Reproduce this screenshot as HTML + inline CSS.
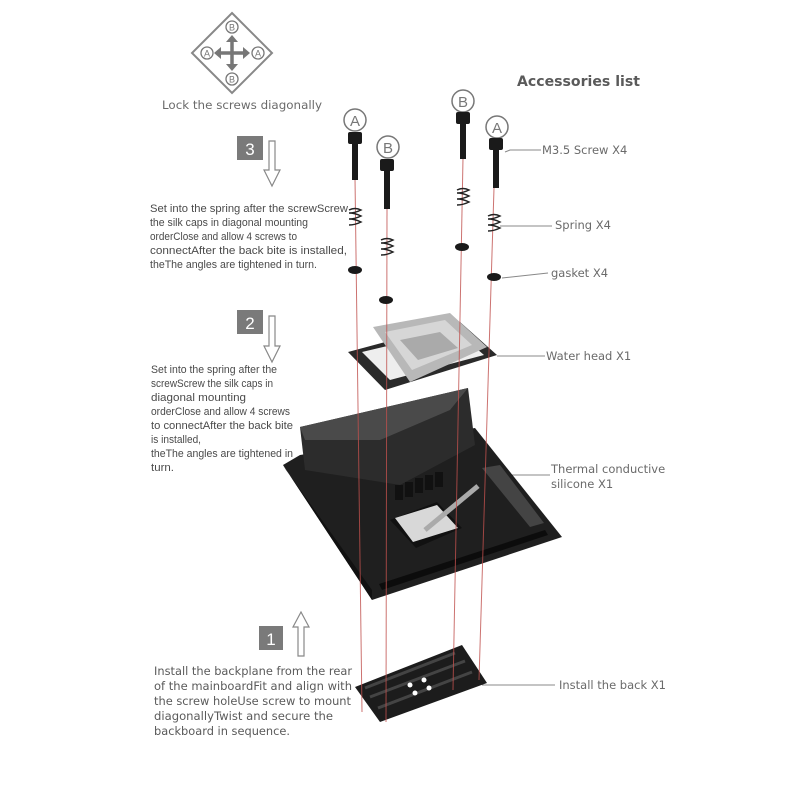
<!DOCTYPE html>
<html><head><meta charset="utf-8"><style>
html,body{margin:0;padding:0;background:#fff;}
svg{display:block;}
.t{font-family:"Liberation Sans",sans-serif;fill:#4a4a4a;font-size:11px;}
.w{font-family:"DejaVu Sans","Liberation Sans",sans-serif;fill:#5a5a5a;font-size:11.5px;}
.l{font-family:"DejaVu Sans","Liberation Sans",sans-serif;fill:#6a6a6a;font-size:11.5px;}
</style></head><body>
<svg width="793" height="793" viewBox="0 0 793 793" xmlns="http://www.w3.org/2000/svg">
<rect width="793" height="793" fill="#fff"/>
<polygon points="232,13 272,53 232,93 192,53" fill="none" stroke="#888" stroke-width="2"/>
<g fill="none" stroke="#777" stroke-width="1.3">
<circle cx="232" cy="27" r="6"/><circle cx="232" cy="79" r="6"/><circle cx="207" cy="53" r="6"/><circle cx="258" cy="53" r="6"/></g>
<g font-family="Liberation Sans,sans-serif" font-size="9" fill="#777" text-anchor="middle">
<text x="232" y="30.5">B</text><text x="232" y="82.5">B</text><text x="207" y="56.5">A</text><text x="258" y="56.5">A</text></g>
<g stroke="#777" stroke-width="3.5"><line x1="232" y1="40" x2="232" y2="66"/><line x1="219" y1="53" x2="245" y2="53"/></g>
<g fill="#777"><polygon points="232,35 226,42 238,42"/><polygon points="232,71 226,64 238,64"/><polygon points="214,53 221,47 221,59"/><polygon points="250,53 243,47 243,59"/></g>
<text x="162" y="109" class="l" fill="#666" textLength="160" lengthAdjust="spacingAndGlyphs">Lock the screws diagonally</text>
<rect x="237" y="136" width="26" height="24" fill="#7a7a7a"/>
<text x="250" y="155" text-anchor="middle" font-family="Liberation Sans,sans-serif" font-size="17" fill="#fff">3</text>
<polygon points="269,141 275,141 275,170 280,170 272,186 264,170 269,170" fill="#fff" stroke="#888" stroke-width="1.2"/>
<g class="t" lengthAdjust="spacingAndGlyphs">
<text x="150" y="212" textLength="198" lengthAdjust="spacingAndGlyphs">Set into the spring after the screwScrew</text>
<text x="150" y="226" textLength="158" lengthAdjust="spacingAndGlyphs">the silk caps in diagonal mounting</text>
<text x="150" y="240" textLength="147" lengthAdjust="spacingAndGlyphs">orderClose and allow 4 screws to</text>
<text x="150" y="254" textLength="197" lengthAdjust="spacingAndGlyphs">connectAfter the back bite is installed,</text>
<text x="150" y="268" textLength="167" lengthAdjust="spacingAndGlyphs">theThe angles are tightened in turn.</text></g>
<rect x="237" y="310" width="26" height="24" fill="#7a7a7a"/>
<text x="250" y="329" text-anchor="middle" font-family="Liberation Sans,sans-serif" font-size="17" fill="#fff">2</text>
<polygon points="269,316 275,316 275,346 280,346 272,362 264,346 269,346" fill="#fff" stroke="#888" stroke-width="1.2"/>
<g class="t">
<text x="151" y="373" textLength="126" lengthAdjust="spacingAndGlyphs">Set into the spring after the</text>
<text x="151" y="387" textLength="122" lengthAdjust="spacingAndGlyphs">screwScrew the silk caps in</text>
<text x="151" y="401" textLength="95" lengthAdjust="spacingAndGlyphs">diagonal mounting</text>
<text x="151" y="415" textLength="139" lengthAdjust="spacingAndGlyphs">orderClose and allow 4 screws</text>
<text x="151" y="429" textLength="142" lengthAdjust="spacingAndGlyphs">to connectAfter the back bite</text>
<text x="151" y="443" textLength="50" lengthAdjust="spacingAndGlyphs">is installed,</text>
<text x="151" y="457" textLength="142" lengthAdjust="spacingAndGlyphs">theThe angles are tightened in</text>
<text x="151" y="471" textLength="23" lengthAdjust="spacingAndGlyphs">turn.</text></g>
<rect x="259" y="626" width="24" height="24" fill="#7a7a7a"/>
<text x="271" y="645" text-anchor="middle" font-family="Liberation Sans,sans-serif" font-size="17" fill="#fff">1</text>
<polygon points="301,612 309,627 304,627 304,656 298,656 298,627 293,627" fill="#fff" stroke="#888" stroke-width="1.2"/>
<g class="w">
<text x="154" y="675" textLength="198" lengthAdjust="spacingAndGlyphs">Install the backplane from the rear</text>
<text x="154" y="690" textLength="198" lengthAdjust="spacingAndGlyphs">of the mainboardFit and align with</text>
<text x="154" y="705" textLength="197" lengthAdjust="spacingAndGlyphs">the screw holeUse screw to mount</text>
<text x="154" y="720" textLength="179" lengthAdjust="spacingAndGlyphs">diagonallyTwist and secure the</text>
<text x="154" y="735" textLength="136" lengthAdjust="spacingAndGlyphs">backboard in sequence.</text></g>
<text x="517" y="86" font-family="DejaVu Sans,Liberation Sans,sans-serif" font-weight="bold" font-size="14" fill="#5a5a5a" textLength="123" lengthAdjust="spacingAndGlyphs">Accessories list</text>
<g stroke="#888" stroke-width="1" fill="none">
<polyline points="505,152 510,150 541,150"/><line x1="500" y1="226" x2="552" y2="226"/><line x1="502" y1="278" x2="548" y2="273"/>
<line x1="497" y1="356" x2="545" y2="356"/><line x1="500" y1="475" x2="550" y2="475"/><line x1="482" y1="685" x2="555" y2="685"/></g>
<g class="l"><text x="542" y="154">M3.5 Screw X4</text><text x="555" y="229">Spring X4</text><text x="551" y="277">gasket X4</text><text x="546" y="360">Water head X1</text><text x="551" y="473">Thermal conductive</text><text x="551" y="488">silicone X1</text><text x="559" y="689">Install the back X1</text></g>
<polygon points="355,687 462,645 487,683 380,722" fill="#1c1c1c"/>
<g stroke="#444" stroke-width="3" fill="none"><line x1="365" y1="688" x2="455" y2="653"/><line x1="370" y1="697" x2="465" y2="661"/><line x1="378" y1="708" x2="472" y2="672"/></g>
<g fill="#fff"><circle cx="410" cy="685" r="2.5"/><circle cx="424" cy="680" r="2.5"/><circle cx="415" cy="693" r="2.5"/><circle cx="429" cy="688" r="2.5"/></g>
<polygon points="283,465 300,455 475,428 562,537 372,600" fill="#1f1f1f"/>
<polygon points="283,465 372,600 372,590 286,470" fill="#111"/>
<polygon points="300,427 468,388 475,445 400,485 305,470" fill="#2c2c2c"/>
<polygon points="300,427 468,388 450,410 380,440 305,440" fill="#4a4a4a"/>
<g fill="#111"><rect x="395" y="485" width="8" height="15"/><rect x="405" y="482" width="8" height="15"/><rect x="415" y="478" width="8" height="15"/><rect x="425" y="475" width="8" height="15"/><rect x="435" y="472" width="8" height="15"/></g>
<polygon points="482,468 500,465 544,523 530,527" fill="#444"/>
<polygon points="390,520 437,502 462,528 416,548" fill="#111"/>
<polygon points="395,518 437,505 458,528 413,542" fill="#d8d8d8"/>
<line x1="425" y1="530" x2="478" y2="486" stroke="#aaa" stroke-width="5"/>
<polygon points="379,584 545,530 548,535 382,590" fill="#0c0c0c"/>
<polygon points="348,352 460,322 497,355 385,390" fill="#2a2a2a"/>
<polygon points="362,352 455,330 484,355 390,380" fill="#eee"/>
<polygon points="373,327 450,313 487,347 410,382" fill="#b8b8b8"/>
<polygon points="385,332 445,320 472,345 412,370" fill="#d6d6d6"/>
<polygon points="400,340 440,332 458,348 418,360" fill="#aaa"/>
<g stroke="#c0504d" stroke-width="1" opacity="0.8"><line x1="355" y1="178" x2="362" y2="712"/><line x1="387" y1="208" x2="386" y2="722"/><line x1="463" y1="158" x2="453" y2="690"/><line x1="494" y1="188" x2="479" y2="680"/></g>
<g fill="none" stroke="#777" stroke-width="1.5"><circle cx="355" cy="120" r="11"/><circle cx="388" cy="147" r="11"/><circle cx="463" cy="101" r="11"/><circle cx="497" cy="127" r="11"/></g>
<g font-family="Liberation Sans,sans-serif" font-size="15" fill="#777" text-anchor="middle"><text x="355" y="126">A</text><text x="388" y="153">B</text><text x="463" y="107">B</text><text x="497" y="133">A</text></g>
<g fill="#1a1a1a">
<rect x="348" y="132" width="14" height="12" rx="2"/><rect x="352" y="144" width="6" height="36"/>
<rect x="380" y="159" width="14" height="12" rx="2"/><rect x="384" y="171" width="6" height="38"/>
<rect x="456" y="112" width="14" height="12" rx="2"/><rect x="460" y="124" width="6" height="35"/>
<rect x="489" y="138" width="14" height="12" rx="2"/><rect x="493" y="150" width="6" height="38"/></g>
<g fill="none" stroke="#222" stroke-width="1.5">
<path d="M349,210 q6,-3 12,0 q-6,3 -12,3 q6,0 12,3 q-6,3 -12,3 q6,0 12,3 q-6,3 -12,3"/>
<path d="M381,240 q6,-3 12,0 q-6,3 -12,3 q6,0 12,3 q-6,3 -12,3 q6,0 12,3 q-6,3 -12,3"/>
<path d="M457,190 q6,-3 12,0 q-6,3 -12,3 q6,0 12,3 q-6,3 -12,3 q6,0 12,3 q-6,3 -12,3"/>
<path d="M488,216 q6,-3 12,0 q-6,3 -12,3 q6,0 12,3 q-6,3 -12,3 q6,0 12,3 q-6,3 -12,3"/></g>
<g fill="#1a1a1a"><ellipse cx="355" cy="270" rx="7" ry="4"/><ellipse cx="386" cy="300" rx="7" ry="4"/><ellipse cx="462" cy="247" rx="7" ry="4"/><ellipse cx="494" cy="277" rx="7" ry="4"/></g>
</svg>
</body></html>
